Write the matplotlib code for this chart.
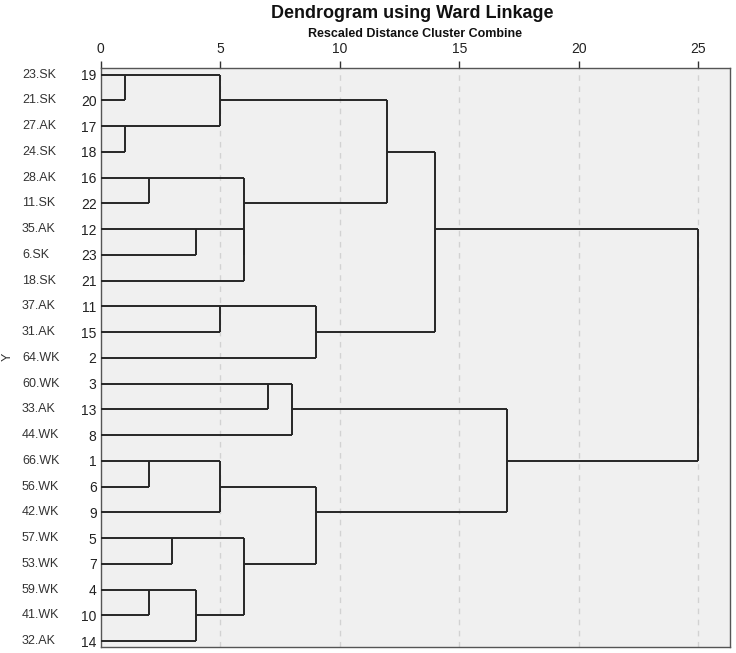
import math

import matplotlib
matplotlib.use("Agg")
import matplotlib.pyplot as plt

plt.rcParams["font.family"] = ["Liberation Sans", "DejaVu Sans"]

# leaf order top -> bottom
case_labels = ["23.SK", "21.SK", "27.AK", "24.SK", "28.AK", "11.SK", "35.AK", "6.SK",
               "18.SK", "37.AK", "31.AK", "64.WK", "60.WK", "33.AK", "44.WK", "66.WK",
               "56.WK", "42.WK", "57.WK", "53.WK", "59.WK", "41.WK", "32.AK"]
case_numbers = [19, 20, 17, 18, 16, 22, 12, 23, 21, 11, 15, 2, 3, 13, 8, 1, 6, 9, 5, 7, 4, 10, 14]

# agglomeration steps: a case from each cluster joined, rescaled distance
merge_a = [19, 17, 19, 16, 12, 12, 16, 19, 11, 11, 19, 3, 3, 1, 1, 5, 4, 4, 5, 1, 3, 19]
merge_b = [20, 18, 17, 22, 23, 21, 12, 16, 15, 2, 11, 13, 8, 6, 9, 7, 10, 14, 4, 5, 1, 3]
merge_dist = [1, 1, 5, 2, 4, 6, 6, 12, 5, 9, 14, 7, 8, 2, 5, 3, 2, 4, 6, 9, 17, 25]

x_ticks = [0, 5, 10, 15, 20, 25]

W, H = 736, 653
ax_left, ax_right = 100.7, 730.0
fig = plt.figure(figsize=(W / 100, H / 100), dpi=100)
ax = fig.add_axes([ax_left / W, 1 - 646.7 / H, (ax_right - ax_left) / W, (646.7 - 68.3) / H])
ax.set_facecolor("#f0f0f0")

# cluster state: case -> cluster id, cluster id -> (row, height)
row_of = {c: i for i, c in enumerate(case_numbers)}
cluster_of = {c: c for c in case_numbers}
members = {c: [c] for c in case_numbers}
state = {c: (row_of[c], 0.0) for c in case_numbers}

line_kw = dict(color="#262626", lw=1.4, solid_capstyle="butt", zorder=3)
for a, b, d in zip(merge_a, merge_b, merge_dist):
    ca, cb = cluster_of[a], cluster_of[b]
    ya, xa = state[ca]
    yb, xb = state[cb]
    ax.plot([xa, d], [ya, ya], **line_kw)
    ax.plot([xb, d], [yb, yb], **line_kw)
    ax.plot([d, d], [ya, yb], **line_kw)
    new_y = math.floor((ya + yb) / 2)
    members[ca] = members[ca] + members[cb]
    for m in members[cb]:
        cluster_of[m] = ca
    del members[cb]
    state[ca] = (new_y, d)
    del state[cb]

for t in x_ticks[1:]:
    ax.axvline(t, color="#d2d2d2", lw=1.0, ls=(0, (4, 4)), zorder=1)

ax.set_xlim(0, (ax_right - ax_left) / 23.9)
ax.set_ylim((646.7 - 74.5) / 25.76, -(74.5 - 68.3) / 25.76)

ax.xaxis.tick_top()
ax.set_xticks(x_ticks)
ax.set_xticklabels([str(t) for t in x_ticks], fontsize=10, color="#222222")
ax.tick_params(axis="x", direction="out", length=5, width=1.0, color="#333333", pad=4)

ax.set_yticks(range(len(case_numbers)))
ax.set_yticklabels([str(n) for n in case_numbers], fontsize=10, color="#222222")
ax.tick_params(axis="y", length=0, pad=3)

label_x = (22 - ax_left) / (ax_right - ax_left)
for i, lab in enumerate(case_labels):
    ax.text(label_x, i, lab, transform=ax.get_yaxis_transform(),
            fontsize=9, color="#333333", ha="left", va="center")

for side in ["top", "bottom", "left", "right"]:
    ax.spines[side].set_color("#555555")
    ax.spines[side].set_linewidth(1.0)

fig.text(8 / W, 1 - 357 / H, "Y", rotation=90, fontsize=9, color="#333333",
         ha="center", va="center")
fig.text(412 / W, 1 - 13 / H, "Dendrogram using Ward Linkage", fontsize=13,
         fontweight="bold", ha="center", va="center", color="#111111")
fig.text(415 / W, 1 - 34 / H, "Rescaled Distance Cluster Combine", fontsize=9,
         fontweight="bold", ha="center", va="center", color="#111111")

fig.savefig("out.png", dpi=100, facecolor="white")
